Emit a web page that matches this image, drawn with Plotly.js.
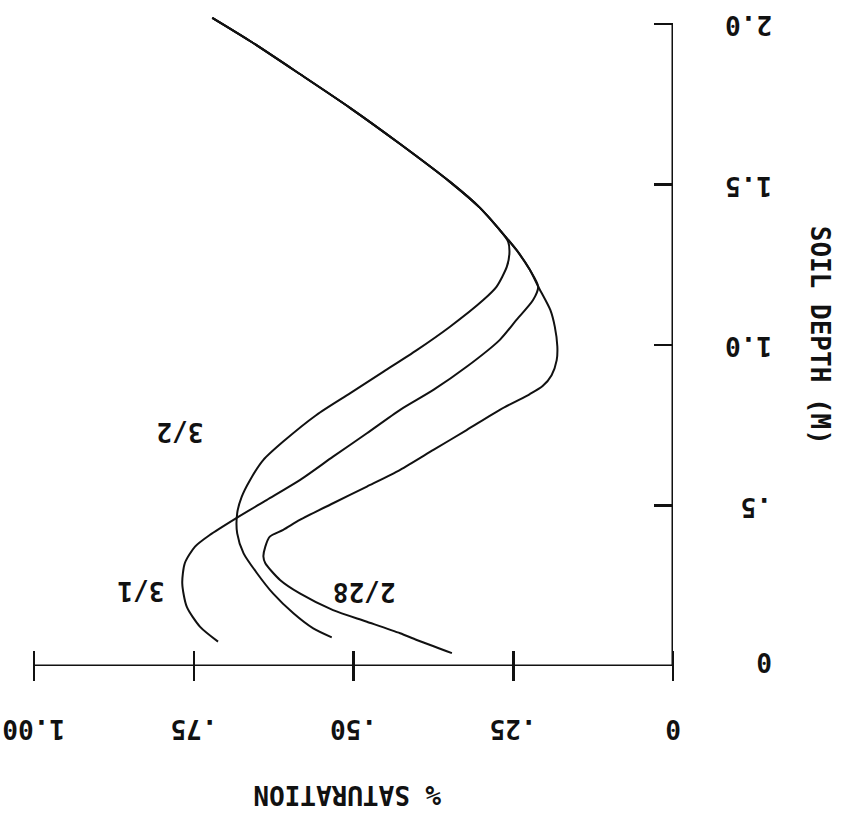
<!DOCTYPE html>
<html>
<head>
<meta charset="utf-8">
<script src="https://cdn.plot.ly/plotly-3.0.1.min.js"></script>
<style>html,body{margin:0;padding:0;background:#fff;}</style>
</head>
<body>
<div id="chart" style="width:844px;height:819px;"></div>
<script>
// Series: % saturation (x) vs soil depth in metres (y)
var sat_3_2 = [0.721,0.662,0.584,0.505,0.427,0.349,0.302,0.271,0.258,0.256,0.260,0.276,0.297,0.349,0.401,0.453,0.505,0.558,0.610,0.641,0.662,0.675,0.682,0.682,0.672,0.651,0.626,0.594,0.563,0.534];
var depth_3_2 = [2.019,1.947,1.844,1.738,1.626,1.508,1.427,1.358,1.322,1.286,1.244,1.182,1.140,1.057,0.984,0.917,0.850,0.782,0.699,0.642,0.579,0.527,0.476,0.413,0.351,0.289,0.226,0.164,0.117,0.089];

var sat_3_1 = [0.721,0.662,0.584,0.505,0.427,0.349,0.302,0.271,0.245,0.224,0.211,0.219,0.245,0.271,0.323,0.375,0.427,0.479,0.532,0.584,0.636,0.684,0.725,0.748,0.764,0.768,0.761,0.740,0.712];
var depth_3_1 = [2.019,1.947,1.844,1.738,1.626,1.508,1.427,1.358,1.296,1.234,1.182,1.140,1.078,1.016,0.932,0.860,0.798,0.725,0.652,0.579,0.517,0.460,0.408,0.372,0.320,0.258,0.185,0.122,0.076];

var sat_2_28 = [0.721,0.662,0.584,0.505,0.427,0.349,0.302,0.271,0.245,0.224,0.211,0.192,0.185,0.181,0.182,0.190,0.204,0.224,0.248,0.271,0.323,0.375,0.427,0.479,0.532,0.584,0.610,0.631,0.638,0.641,0.638,0.615,0.584,0.532,0.479,0.427,0.401,0.346];
var depth_2_28 = [2.019,1.947,1.844,1.738,1.626,1.508,1.427,1.358,1.296,1.234,1.182,1.109,1.057,0.995,0.953,0.906,0.872,0.847,0.822,0.798,0.735,0.673,0.611,0.559,0.507,0.455,0.424,0.403,0.372,0.341,0.320,0.268,0.226,0.174,0.138,0.102,0.081,0.040];

var seriesNames = ['3/2','3/1','2/28'];
var labelSat = [0.772,0.833,0.484];
var labelDepth = [0.729,0.234,0.231];

var xTickVals = [0,0.25,0.5,0.75,1];
var xTickText = ['0','.25','.50','.75','1.00'];
var yTickVals = [0,0.5,1,1.5,2];
var yTickText = ['0','.5','1.0','1.5','2.0'];

var xTitle = '% SATURATION';
var yTitle = 'SOIL DEPTH (M)';

var FONT = {family:'DejaVu Sans Mono, monospace', size:26, color:'#111', weight:'bold'};
var lineStyle = {color:'#111', width:2, shape:'spline', smoothing:0.7};

var traces = [
  {x:sat_3_2, y:depth_3_2, name:seriesNames[0]},
  {x:sat_3_1, y:depth_3_1, name:seriesNames[1]},
  {x:sat_2_28, y:depth_2_28, name:seriesNames[2]}
].map(function(t){ t.type='scatter'; t.mode='lines'; t.line=lineStyle; t.hoverinfo='skip'; return t; });

var annotations = [];
xTickVals.forEach(function(v,i){
  annotations.push({xref:'x', yref:'y', x:v, y:0, yshift:-63, text:xTickText[i], showarrow:false, textangle:180, font:FONT, xanchor:'center', yanchor:'middle'});
});
yTickVals.forEach(function(v,i){
  annotations.push({xref:'x', yref:'y', x:0, y:v, xshift:101, yshift:(v===0?4:-1), text:yTickText[i], showarrow:false, textangle:180, font:FONT, xanchor:'right', yanchor:'middle'});
});
seriesNames.forEach(function(n,i){
  annotations.push({xref:'x', yref:'y', x:labelSat[i], y:labelDepth[i], text:n, showarrow:false, textangle:180, font:FONT, xanchor:'center', yanchor:'middle'});
});
annotations.push({xref:'paper', yref:'y', x:0.49, y:0, yshift:-129, text:xTitle, showarrow:false, textangle:180, font:FONT, xanchor:'center', yanchor:'middle'});
annotations.push({xref:'x', yref:'paper', x:0, y:0.508, xshift:147, text:yTitle, showarrow:false, textangle:90, font:FONT, xanchor:'center', yanchor:'middle'});

var layout = {
  width:844, height:819,
  margin:{l:34, r:171, t:14, b:153, pad:0},
  paper_bgcolor:'#fff', plot_bgcolor:'#fff',
  showlegend:false,
  xaxis:{range:[1,0], showgrid:false, zeroline:false, showline:false,
         tickvals:xTickVals, showticklabels:false, ticks:'outside', ticklen:30, tickwidth:2.5, tickcolor:'#111',
         anchor:'free', position:0.0245},
  yaxis:{range:[0,2.031], showgrid:false, zeroline:false, showline:false, side:'right',
         tickvals:yTickVals, showticklabels:false, ticks:'inside', ticklen:19, tickwidth:2.5, tickcolor:'#111',
         anchor:'free', position:1},
  shapes:[
    {type:'line', xref:'x', yref:'y', x0:1, x1:0, y0:0, y1:0, line:{color:'#111', width:3}},
    {type:'line', xref:'x', yref:'y', x0:0, x1:0, y0:0, y1:2, line:{color:'#111', width:3}}
  ],
  annotations:annotations
};

Plotly.newPlot('chart', traces, layout, {staticPlot:true, displayModeBar:false});
</script>
</body>
</html>
